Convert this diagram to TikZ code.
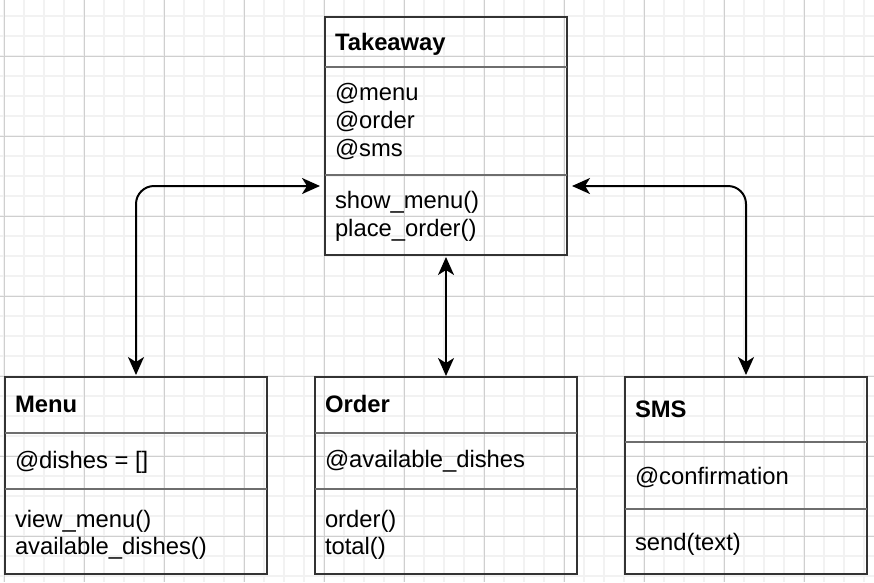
\documentclass[tikz,border=0pt]{standalone}
\usepackage{fontspec}
\setmainfont{Liberation Sans}
\usetikzlibrary{arrows.meta}
\definecolor{gridminor}{HTML}{F2F2F2}
\definecolor{gridmajor}{HTML}{CFCFCF}
\definecolor{boxline}{HTML}{333333}
\definecolor{divline}{HTML}{6E6E6E}
\tikzset{
  umlbox/.style={draw=boxline, line width=1.5pt, anchor=north west, inner sep=0pt, outer sep=0pt},
  divider/.style={draw=divline, line width=1.2pt},
  lbl/.style={anchor=base west, inner sep=0pt, outer sep=0pt, font=\fontsize{23.8}{28}\selectfont},
  ttl/.style={lbl, font=\fontsize{23.8}{28}\selectfont\bfseries},
  conn/.style={draw=black, line width=2pt, rounded corners=18pt,
    {Stealth[length=18pt, width=16pt, inset=5pt]}-{Stealth[length=18pt, width=16pt, inset=5pt]}},
}
\begin{document}
\begin{tikzpicture}[x=1pt, y=-1pt]
\useasboundingbox (0,0) rectangle (874,582);
\fill[white] (0,0) rectangle (874,582);
% grid
\begin{scope}
\clip (0,0) rectangle (874,582);
\foreach \i in {0,...,44} { \draw[gridminor, line width=1.5pt] ({4+20*\i},0) -- ({4+20*\i},582); }
\foreach \j in {0,...,29} { \draw[gridminor, line width=1.5pt] (0,{-4+20*\j}) -- (874,{-4+20*\j}); }
\foreach \i in {0,...,10} { \draw[gridmajor, line width=0.9pt] ({4+80*\i},0) -- ({4+80*\i},582); }
\foreach \j in {0,...,7} { \draw[gridmajor, line width=0.9pt] (0,{-24+80*\j}) -- (874,{-24+80*\j}); }
\end{scope}

% Takeaway
\node[umlbox, minimum width=242pt, minimum height=238pt] (tk) at (325,17) {};
\draw[divider] ([yshift=-50pt]tk.north west) -- ([yshift=-50pt]tk.north east);
\draw[divider] ([yshift=-158pt]tk.north west) -- ([yshift=-158pt]tk.north east);
\node[ttl] (tkT) at (335,50) {Takeaway};
\node[lbl] (tkA1) at (335,100) {@menu};
\node[lbl] (tkA2) at (335,128) {@order};
\node[lbl] (tkA3) at (335,156) {@sms};
\node[lbl] (tkM1) at (335,208) {show\_menu()};
\node[lbl] (tkM2) at (335,236) {place\_order()};

% Menu
\node[umlbox, minimum width=262pt, minimum height=197pt] (menu) at (5,377) {};
\draw[divider] ([yshift=-56pt]menu.north west) -- ([yshift=-56pt]menu.north east);
\draw[divider] ([yshift=-112pt]menu.north west) -- ([yshift=-112pt]menu.north east);
\node[ttl] (menuT) at (15,412) {Menu};
\node[lbl] (menuA1) at (15,468) {@dishes = []};
\node[lbl] (menuM1) at (15,527) {view\_menu()};
\node[lbl] (menuM2) at (15,554) {available\_dishes()};

% Order
\node[umlbox, minimum width=262pt, minimum height=197pt] (order) at (315,377) {};
\draw[divider] ([yshift=-56pt]order.north west) -- ([yshift=-56pt]order.north east);
\draw[divider] ([yshift=-112pt]order.north west) -- ([yshift=-112pt]order.north east);
\node[ttl] (orderT) at (325,412) {Order};
\node[lbl] (orderA1) at (325,467) {@available\_dishes};
\node[lbl] (orderM1) at (325,527) {order()};
\node[lbl] (orderM2) at (325,554) {total()};

% SMS
\node[umlbox, minimum width=242pt, minimum height=197pt] (sms) at (625,377) {};
\draw[divider] ([yshift=-65pt]sms.north west) -- ([yshift=-65pt]sms.north east);
\draw[divider] ([yshift=-132pt]sms.north west) -- ([yshift=-132pt]sms.north east);
\node[ttl] (smsT) at (635,417) {SMS};
\node[lbl] (smsA1) at (635,484) {@confirmation};
\node[lbl] (smsM1) at (635,550) {send(text)};

% connectors
\draw[conn, shorten <=2pt, shorten >=5pt] (menu.north) |- ([yshift=-50pt]tk.west);
\draw[conn, shorten <=2pt, shorten >=5pt] (sms.north) |- ([yshift=-50pt]tk.east);
\draw[conn, shorten <=2pt, shorten >=1pt] (tk.south) -- (order.north);
\end{tikzpicture}
\end{document}
